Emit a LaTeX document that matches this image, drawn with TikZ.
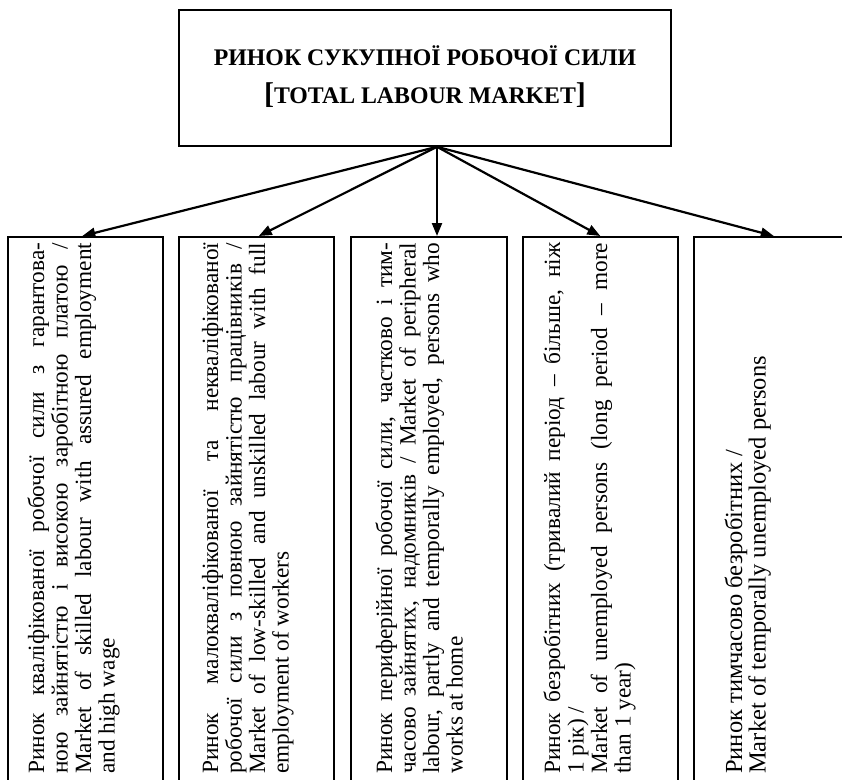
\documentclass[tikz,border=0pt]{standalone}
\usepackage{fontspec}
\setmainfont{Liberation Serif}
\usetikzlibrary{arrows.meta}
\begin{document}
\begin{tikzpicture}[x=1pt,y=-1pt,
  boxline/.style={draw=black,line width=1.6pt},
  topbox/.style={boxline, minimum width=492pt, minimum height=136pt, inner sep=0pt},
  lowbox/.style={boxline, minimum height=560pt, inner sep=0pt, anchor=north west},
  conn/.style={line width=2.2pt, -{Triangle[length=13pt,width=10pt]}},
  vtext/.style={rotate=90, anchor=north west, inner sep=0pt, text width=531pt, align=justify, font=\fontsize{23.3}{23.5}\selectfont},
  vtextbig/.style={vtext, font=\fontsize{24.5}{23.5}\selectfont},
  titletext/.style={font=\bfseries\fontsize{23.8}{23.8}\selectfont, anchor=base, inner sep=0pt}]
\useasboundingbox (0,0) rectangle (842,779);
\clip (0,0) rectangle (842,779);
% top box
\node[topbox] (top) at (425,78) {};
\node[titletext] (t1) at (425,65) {РИНОК СУКУПНОЇ РОБОЧОЇ СИЛИ};
\node[titletext] (t2) at (425,103) {{\fontsize{30}{30}\selectfont[}TOTAL LABOUR MARKET{\fontsize{30}{30}\selectfont]}};
% lower boxes
\node[lowbox, minimum width=155pt] (b1) at (7,236) {};
\node[lowbox, minimum width=155pt] (b2) at (178,236) {};
\node[lowbox, minimum width=156pt] (b3) at (350,236) {};
\node[lowbox, minimum width=155pt] (b4) at (522,236) {};
\node[lowbox, minimum width=160pt] (b5) at (693,236) {};
% texts
\node[vtext] (x1) at (27,774) {\noindent\tolerance=10000\hyphenpenalty=10000\rule{0pt}{17pt}Ринок кваліфікованої робочої сили з гарантова-\linebreak ною зайнятістю і високою заробітною платою /\linebreak Market of skilled labour with assured employment\linebreak and high wage};
\node[vtext] (x2) at (201,774) {\noindent\tolerance=10000\hyphenpenalty=10000\rule{0pt}{17pt}Ринок малокваліфікованої та некваліфікованої\linebreak робочої сили з повною зайнятістю працівників /\linebreak Market of low-skilled and unskilled labour with full\linebreak employment of workers};
\node[vtext] (x3) at (375,774) {\noindent\tolerance=10000\hyphenpenalty=10000\rule{0pt}{17pt}Ринок периферійної робочої сили, частково і тим-\linebreak часово зайнятих, надомників / Market of peripheral\linebreak labour, partly and temporally employed, persons who\linebreak works at home};
\node[vtext] (x4) at (543,774) {\noindent\tolerance=10000\hyphenpenalty=10000\rule{0pt}{17pt}Ринок безробітних (тривалий період – більше, ніж\linebreak 1 рік) /\newline Market of unemployed persons (long period – more\linebreak than 1 year)};
\node[vtextbig] (x5) at (724,774) {\noindent\tolerance=10000\hyphenpenalty=10000\rule{0pt}{18pt}Ринок тимчасово безробітних /\newline Market of temporally unemployed persons};
% connectors
\coordinate (src) at ([xshift=12pt]top.south);
\draw[conn] (src) -- ([xshift=-3pt]b1.north);
\draw[conn] (src) -- ([xshift=2.5pt]b2.north);
\draw[conn] (src) -- (b3.north -| src);
\draw[conn] (src) -- (b4.north);
\draw[conn] (src) -- (b5.north);
\end{tikzpicture}
\end{document}
